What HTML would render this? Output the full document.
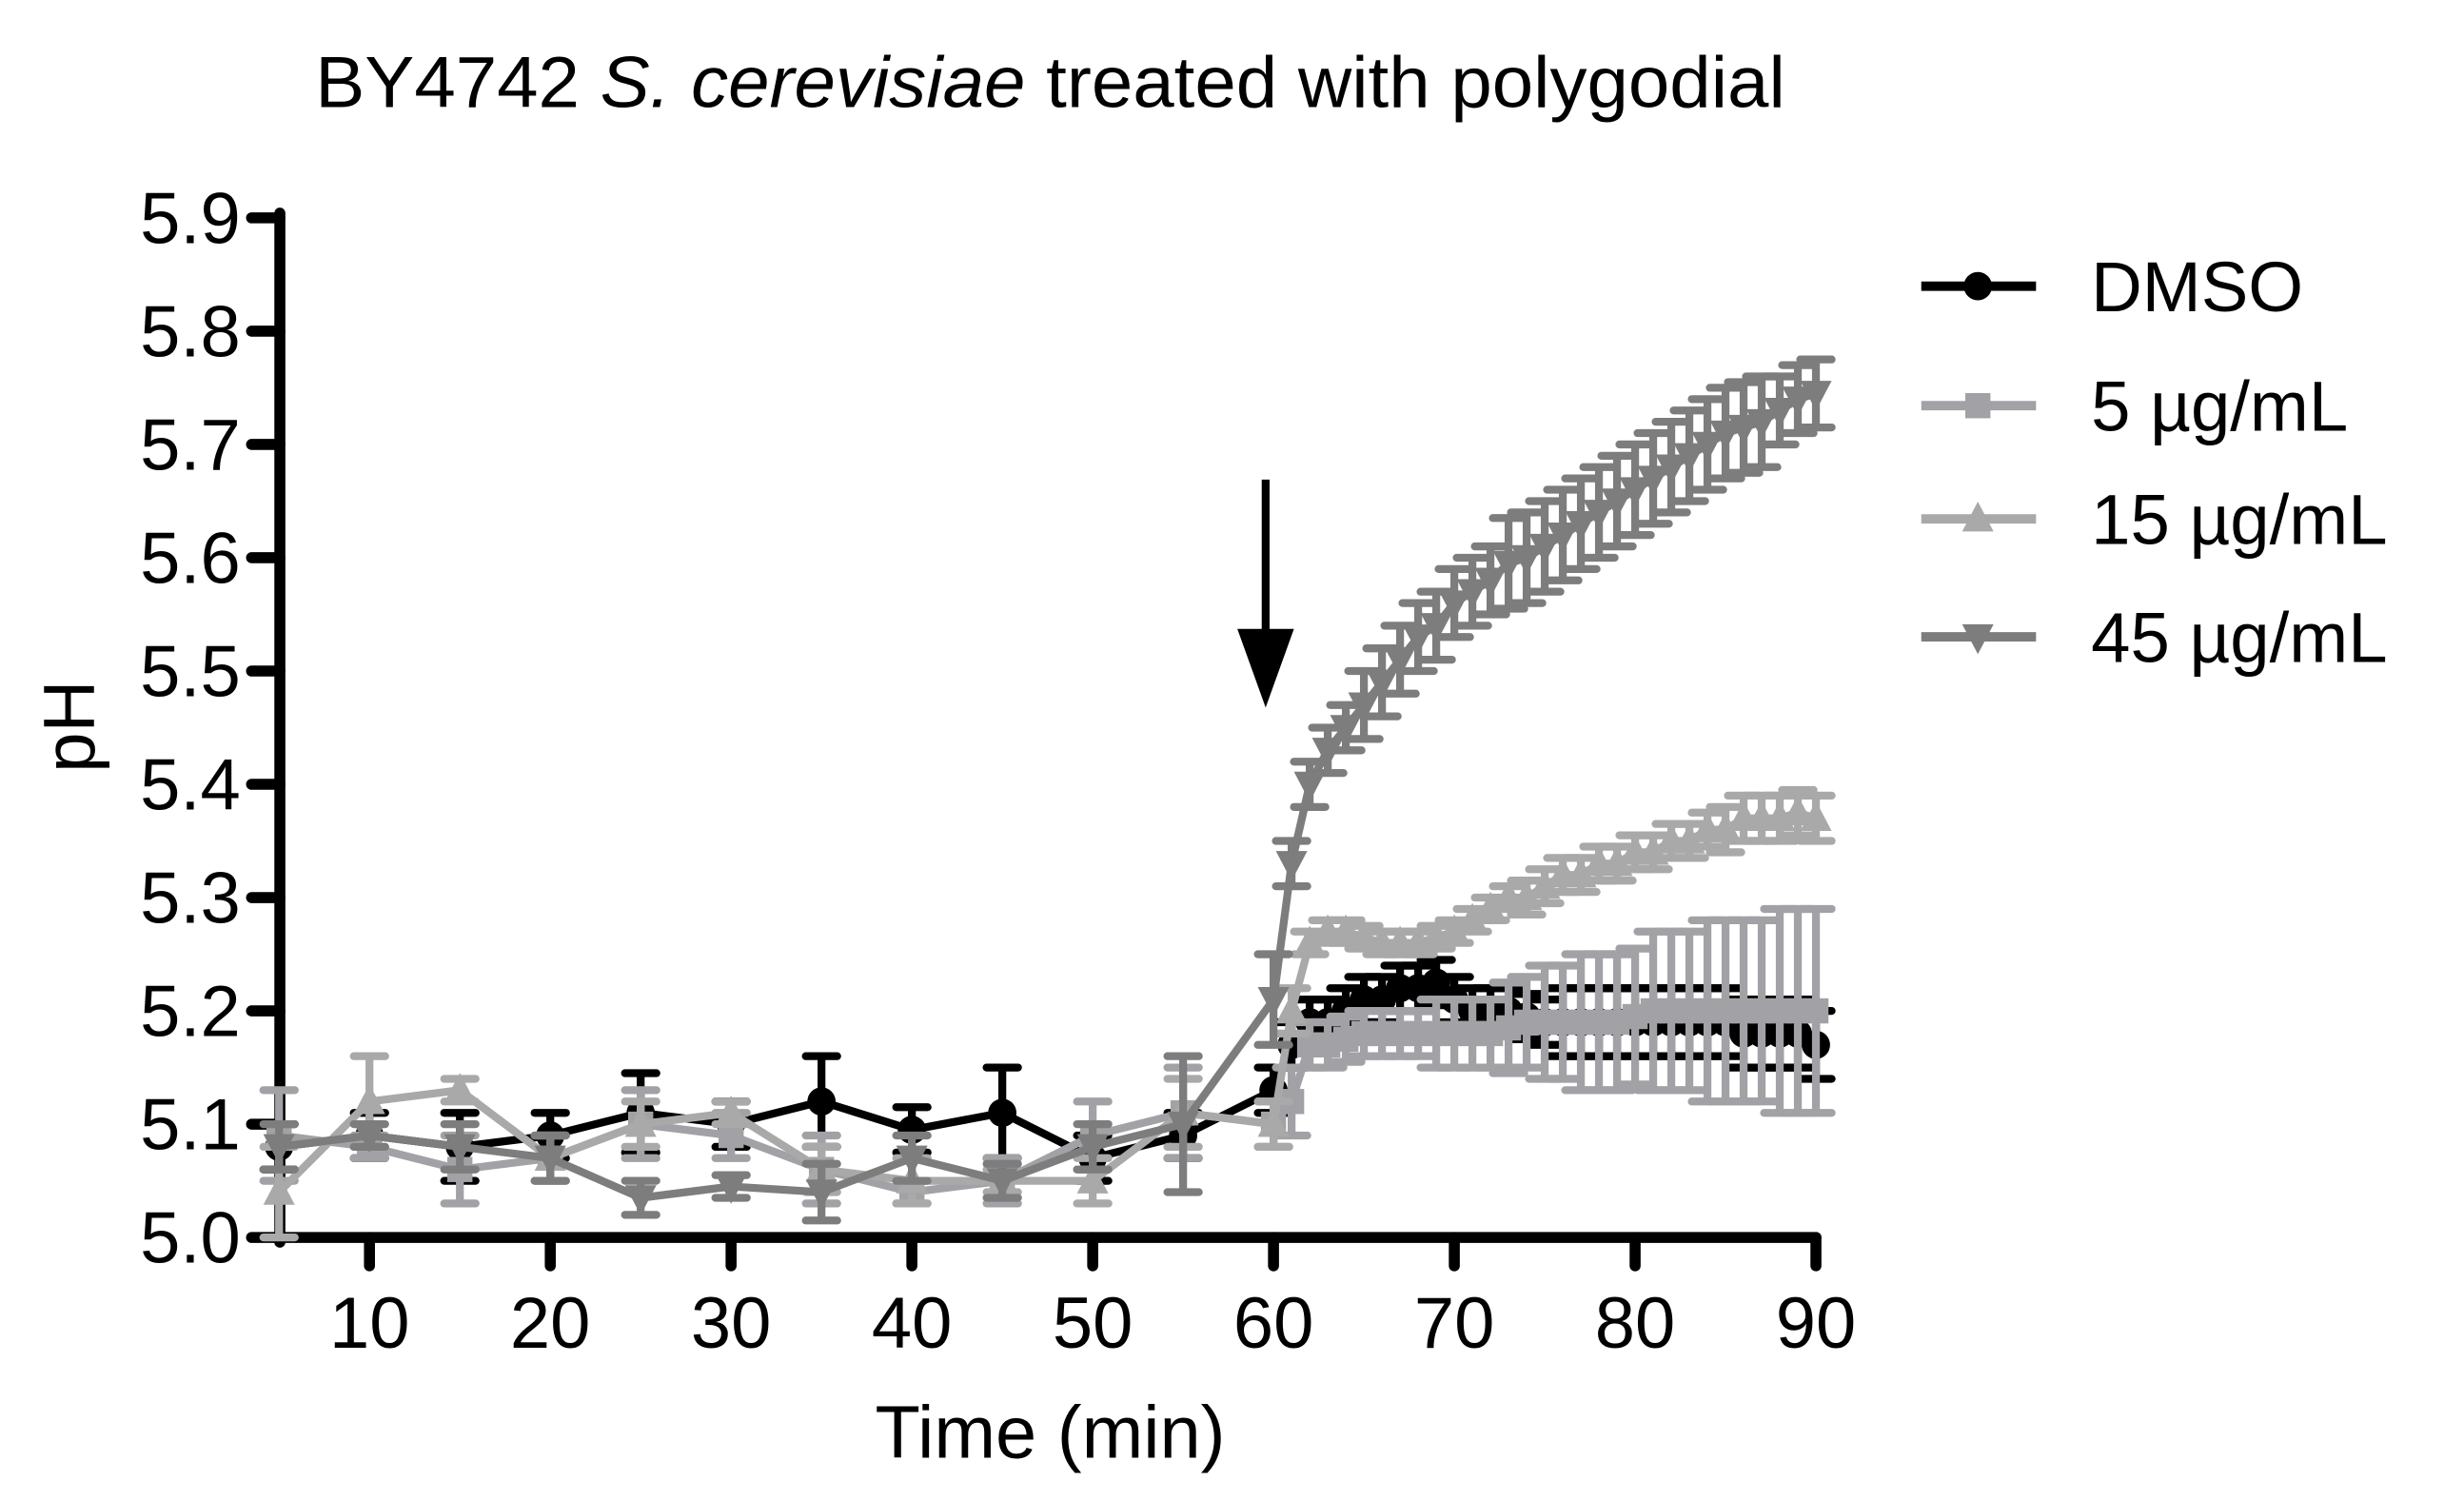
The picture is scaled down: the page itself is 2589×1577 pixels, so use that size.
<!DOCTYPE html>
<html><head><meta charset="utf-8"><style>
html,body{margin:0;padding:0;background:#fff;}
svg{display:block;font-family:"Liberation Sans",Arial,sans-serif;}
</style></head><body>
<svg id="chart" width="2589" height="1577" viewBox="0 0 1567.2 954.6" preserveAspectRatio="none" xmlns="http://www.w3.org/2000/svg">
<text x="668" y="68" font-size="46" text-anchor="middle" textLength="935" lengthAdjust="spacingAndGlyphs">BY4742 <tspan font-style="italic">S. cerevisiae</tspan> treated with polygodial</text>
<text transform="translate(60,462) rotate(-90)" font-size="46" text-anchor="middle">pH</text>
<text x="668" y="927" font-size="47" text-anchor="middle">Time (min)</text>
<g id="axes"></g>
<g id="series"></g>
<g>
<line x1="805" y1="305" x2="805" y2="410" stroke="#000" stroke-width="5"/>
<polygon points="787,400 823,400 805,450" fill="#000"/>
</g>
<g id="legend"></g>
</svg>
<script>
const xTicks=[10,20,30,40,50,60,70,80,90];
const yTicks=[5.0,5.1,5.2,5.3,5.4,5.5,5.6,5.7,5.8,5.9];
const seriesNames=["DMSO","5 µg/mL","15 µg/mL","45 µg/mL"];
const timesEarly=[5,10,15,20,25,30,35,40,45,50,55];
const timesLate=[60,61,62,63,64,65,66,67,68,69,70,71,72,73,74,75,76,77,78,79,80,81,82,83,84,85,86,87,88,89,90];
const dmsoVals=[5.08,5.09,5.08,5.09,5.11,5.10,5.12,5.095,5.11,5.07,5.09,
 5.13,5.17,5.19,5.19,5.20,5.21,5.21,5.22,5.22,5.225,5.21,5.20,5.20,5.20,5.195,5.19,5.19,5.19,5.19,5.19,5.19,5.19,5.19,5.19,5.19,5.19,5.18,5.18,5.18,5.18,5.17];
const dmsoErr=[0.02,0.02,0.03,0.02,0.035,0.02,0.04,0.02,0.04,0.02,0.02,
 0.02,0.02,0.02,0.02,0.02,0.02,0.02,0.02,0.02,0.02,0.02,0.02,0.02,0.02,0.02,0.02,0.03,0.03,0.03,0.03,0.03,0.03,0.03,0.03,0.03,0.03,0.03,0.03,0.03,0.03,0.03];
const low5Vals=[5.09,5.08,5.06,5.07,5.10,5.09,5.06,5.04,5.05,5.09,5.11,
 5.10,5.12,5.17,5.17,5.175,5.18,5.18,5.18,5.18,5.18,5.18,5.18,5.18,5.185,5.19,5.19,5.19,5.19,5.19,5.19,5.195,5.20,5.20,5.20,5.20,5.20,5.20,5.20,5.20,5.20,5.20];
const low5Err=[0.04,0.01,0.03,0.02,0.03,0.02,0.03,0.01,0.02,0.03,0.04,
 0.02,0.03,0.02,0.02,0.02,0.02,0.02,0.02,0.02,0.03,0.03,0.03,0.03,0.04,0.04,0.05,0.05,0.06,0.06,0.06,0.06,0.07,0.07,0.07,0.08,0.08,0.08,0.08,0.09,0.09,0.09];
const mid15Vals=[5.04,5.12,5.13,5.07,5.10,5.11,5.06,5.05,5.05,5.05,5.11,
 5.10,5.20,5.26,5.27,5.27,5.265,5.26,5.26,5.26,5.265,5.27,5.28,5.29,5.30,5.30,5.31,5.32,5.32,5.33,5.33,5.34,5.34,5.35,5.35,5.36,5.36,5.37,5.37,5.37,5.375,5.37];
const mid15Err=[0.04,0.04,0.01,0.02,0.02,0.01,0.02,0.02,0.01,0.02,0.03,
 0.02,0.02,0.01,0.01,0.01,0.01,0.01,0.01,0.01,0.01,0.01,0.01,0.01,0.01,0.015,0.015,0.015,0.015,0.015,0.015,0.015,0.015,0.015,0.015,0.015,0.02,0.02,0.02,0.02,0.02,0.02];
const high45Vals=[5.08,5.09,5.08,5.07,5.035,5.045,5.04,5.07,5.05,5.08,5.10,
 5.21,5.33,5.40,5.43,5.45,5.47,5.49,5.51,5.53,5.54,5.56,5.57,5.58,5.595,5.60,5.61,5.62,5.63,5.64,5.65,5.66,5.67,5.68,5.69,5.70,5.71,5.715,5.72,5.73,5.74,5.745];
const high45Err=[0.02,0.01,0.02,0.02,0.015,0.01,0.025,0.02,0.015,0.02,0.06,
 0.04,0.02,0.02,0.02,0.02,0.03,0.03,0.03,0.03,0.03,0.03,0.03,0.03,0.04,0.04,0.04,0.04,0.04,0.04,0.04,0.04,0.04,0.04,0.04,0.04,0.04,0.04,0.04,0.03,0.03,0.03];
const times=timesEarly.concat(timesLate);

const NS="http://www.w3.org/2000/svg";
function X(t){return 177.5+(t-5)*11.5;}
function Y(v){return 787-(v-5.0)*720.5;}
function mk(tag,attrs,parent){const e=document.createElementNS(NS,tag);for(const k in attrs)e.setAttribute(k,attrs[k]);parent.appendChild(e);return e;}

const axes=document.getElementById('axes');
let l=mk('line',{x1:178,y1:Y(5.9)-3,x2:178,y2:790,stroke:'#000','stroke-width':7,'stroke-linecap':'round'},axes);


l=mk('line',{x1:175,y1:787,x2:X(90),y2:787,stroke:'#000','stroke-width':7,'stroke-linecap':'round'},axes);


yTicks.forEach(v=>{
 const t=mk('line',{x1:160,y1:Y(v),x2:178,y2:Y(v),stroke:'#000','stroke-width':7,'stroke-linecap':'round'},axes);
 
 
 const tx=mk('text',{x:153,y:Y(v)+16,'font-size':46,'text-anchor':'end'},axes);
 tx.textContent=v.toFixed(1);
 
 
});
xTicks.forEach(v=>{
 const t=mk('line',{x1:X(v),y1:787,x2:X(v),y2:805,stroke:'#000','stroke-width':7,'stroke-linecap':'round'},axes);
 
 
 const tx=mk('text',{x:X(v),y:857,'font-size':46,'text-anchor':'middle'},axes);
 tx.textContent=String(v);
 
 
});

function marker(shape,x,y,color,g){
 let m;
 if(shape==='circle') m=mk('circle',{cx:x,cy:y,r:9,fill:color},g);
 else if(shape==='square') m=mk('rect',{x:x-8,y:y-8,width:16,height:16,fill:color},g);
 else if(shape==='up') m=mk('polygon',{points:`${x-10},${y+8} ${x+10},${y+8} ${x},${y-11}`,fill:color},g);
 else m=mk('polygon',{points:`${x-10},${y-8} ${x+10},${y-8} ${x},${y+11}`,fill:color},g);
 return m;
}
const seriesDefs=[
 {vals:dmsoVals,err:dmsoErr,color:'#000',shape:'circle',id:'dmso'},
 {vals:low5Vals,err:low5Err,color:'#a2a2a6',shape:'square',id:'5ug'},
 {vals:mid15Vals,err:mid15Err,color:'#a9a9a9',shape:'up',id:'15ug'},
 {vals:high45Vals,err:high45Err,color:'#7d7d7d',shape:'down',id:'45ug'}
];
const sg=document.getElementById('series');
seriesDefs.forEach((s,si)=>{
 const g=mk('g',{},sg);
 
 
 times.forEach((t,i)=>{
  const x=X(t),y1=Y(s.vals[i]+s.err[i]),y2=Y(s.vals[i]-s.err[i]);
  const e=mk('path',{d:`M${x},${y1}V${y2}M${x-10},${y1}H${x+10}M${x-10},${y2}H${x+10}`,stroke:s.color,'stroke-width':5,'stroke-linecap':'round',fill:'none'},g);
  
  
 });
 const pts=times.map((t,i)=>X(t)+','+Y(s.vals[i])).join(' ');
 const pl=mk('polyline',{points:pts,fill:'none',stroke:s.color,'stroke-width':5,'stroke-linejoin':'round'},g);
 
 
 times.forEach((t,i)=>{
  const m=marker(s.shape,X(t),Y(s.vals[i]),s.color,g);
  
  
 });
});

const lg=document.getElementById('legend');
const legY=[182,258,330,405];
seriesDefs.forEach((s,i)=>{
 const g=mk('g',{},lg);
 
 
 mk('line',{x1:1222,y1:legY[i],x2:1295,y2:legY[i],stroke:s.color,'stroke-width':6},g);
 marker(s.shape,1258,legY[i],s.color,g);
 const tx=mk('text',{x:1330,y:legY[i]+16,'font-size':45},g);
 tx.textContent=seriesNames[i];
 
 
});
</script>
</body></html>
